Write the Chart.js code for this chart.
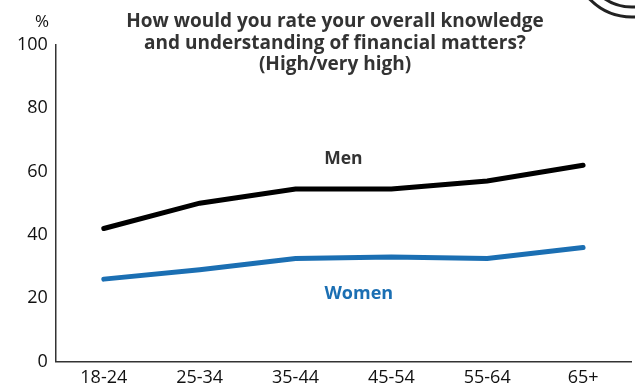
<!DOCTYPE html>
<html>
<head>
<meta charset="utf-8">
<script src="https://cdn.jsdelivr.net/npm/chart.js@4.4.0/dist/chart.umd.min.js"></script>
<style>
  html, body { margin: 0; padding: 0; background: #fff; }
  #wrap { width: 635px; height: 388px; position: relative; }
</style>
</head>
<body>
<div id="wrap"><canvas id="chart"></canvas></div>
<script>
// datos
var ageGroups = ['18-24', '25-34', '35-44', '45-54', '55-64', '65+'];
var menValues = [42, 50, 54.5, 54.5, 57, 62];
var womenValues = [26, 29, 32.5, 33, 32.5, 36];
var yTicks = [0, 20, 40, 60, 80, 100];
var titleLines = ['How would you rate your overall knowledge', 'and understanding of financial matters?', '(High/very high)'];

var FONT = '"Open Sans", "DejaVu Sans", sans-serif';

// titulo, etiquetas de serie y el logo de la esquina
var extrasPlugin = {
    id: 'extras',
    afterDraw: function (chart) {
        var ctx = chart.ctx;
        var x = chart.scales.x;
        var y = chart.scales.y;
        ctx.save();

        ctx.fillStyle = '#333333';
        ctx.font = 'bold 19px ' + FONT;
        ctx.textAlign = 'center';
        ctx.textBaseline = 'middle';
        titleLines.forEach(function (line, i) {
            ctx.fillText(line, 335, 22 + i * 21.5);
        });

        ctx.font = '17px ' + FONT;
        ctx.fillStyle = '#111111';
        ctx.fillText('%', 42, 22);

        ctx.font = 'bold 17.5px ' + FONT;
        ctx.fillStyle = '#333333';
        ctx.fillText('Men', x.getPixelForValue(2.5), y.getPixelForValue(64));
        ctx.fillStyle = '#1b6fb3';
        ctx.font = 'bold 18px ' + FONT;
        ctx.fillText('Women', x.getPixelForValue(2.66), y.getPixelForValue(21.2));

        // logo recortado arriba a la derecha
        ctx.strokeStyle = '#222222';
        ctx.lineWidth = 3;
        ctx.beginPath();
        ctx.arc(632, -42, 59, 0, Math.PI);
        ctx.stroke();
        ctx.beginPath();
        ctx.arc(632, -42, 49, 0, Math.PI);
        ctx.stroke();
        ctx.restore();
    }
};

var chart = new Chart(document.getElementById('chart'), {
    type: 'line',
    data: {
        labels: ageGroups,
        datasets: [
            {
                label: 'Men',
                data: menValues,
                borderColor: '#000000',
                borderWidth: 5,
                borderCapStyle: 'round',
                pointRadius: 0,
                tension: 0,
                fill: false
            },
            {
                label: 'Women',
                data: womenValues,
                borderColor: '#1b6fb3',
                borderWidth: 5,
                borderCapStyle: 'round',
                pointRadius: 0,
                tension: 0,
                fill: false
            }
        ]
    },
    options: {
        responsive: true,
        maintainAspectRatio: false,
        animation: false,
        layout: { padding: { top: 45, right: 4, left: 9, bottom: -7 } },
        plugins: {
            legend: { display: false },
            title: { display: false },
            tooltip: { enabled: false }
        },
        scales: {
            x: {
                offset: true,
                grid: { display: false, drawTicks: false },
                border: { display: true, color: '#333333', width: 1.5 },
                ticks: {
                    color: '#111111',
                    font: { family: FONT, size: 18 },
                    padding: 6,
                    maxRotation: 0
                }
            },
            y: {
                min: 0,
                max: 100,
                afterBuildTicks: function (axis) {
                    axis.ticks = yTicks.map(function (v) { return { value: v }; });
                },
                grid: { display: false, drawTicks: false },
                border: { display: true, color: '#333333', width: 1.5 },
                ticks: {
                    color: '#111111',
                    font: { family: FONT, size: 18 },
                    padding: 8
                }
            }
        }
    },
    plugins: [extrasPlugin]
});
</script>
</body>
</html>
